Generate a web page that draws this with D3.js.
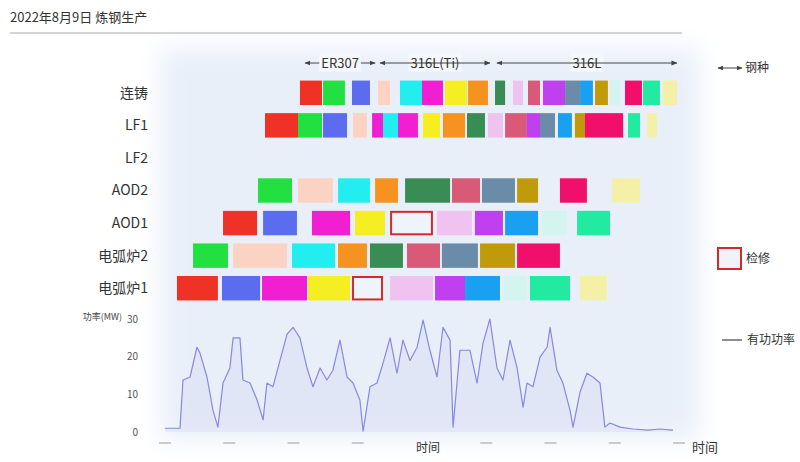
<!DOCTYPE html>
<html>
<head>
<meta charset="utf-8">
<script src="https://cdn.jsdelivr.net/npm/d3@7"></script>
<style>
  html, body { margin: 0; padding: 0; background: #fff; }
  svg { display: block; font-family: "Noto Sans CJK SC", "Noto Sans", sans-serif; }
</style>
</head>
<body>
<svg id="chart" width="800" height="462"></svg>
<script>
// Production stages, top to bottom
const stages = ["连铸", "LF1", "LF2", "AOD2", "AOD1", "电弧炉2", "电弧炉1"];

// One colour per heat; the heat keeps its colour through every stage
const heatColors = [
  "#ee3226", "#22e040", "#5b6cee", "#fcd2c2", "#f020d2", "#22eef0", "#f4ee22",
  "#f59220", "#3a8c55", "#f0c2f0", "#d85a78", "#c040f0", "#6a8ca8", "#1aa0f0",
  "#c09a0a", "#d4f4f0", "#f0106c", "#22eaa0", "#f4f0a8"
];

// [stage, heat, start hour, end hour]
const operations = [
  ["电弧炉1", 0, 0.56, 2.47], ["AOD1", 0, 2.71, 4.30], ["LF1", 0, 4.67, 6.21], ["连铸", 0, 6.30, 7.33],
  ["电弧炉2", 1, 1.31, 2.94], ["AOD2", 1, 4.34, 5.93], ["LF1", 1, 6.21, 7.33], ["连铸", 1, 7.38, 8.40],
  ["电弧炉1", 2, 2.66, 4.44], ["AOD1", 2, 4.58, 6.16], ["LF1", 2, 7.38, 8.50], ["连铸", 2, 8.73, 9.57],
  ["电弧炉2", 3, 3.18, 5.70], ["AOD2", 3, 6.21, 7.84], ["LF1", 3, 8.78, 9.43], ["连铸", 3, 9.95, 10.51],
  ["电弧炉1", 4, 4.53, 6.63], ["AOD1", 4, 6.86, 8.64], ["LF1", 4, 9.67, 10.18], ["LF1", 4, 10.88, 11.81], ["连铸", 4, 12.00, 12.98],
  ["电弧炉2", 5, 5.93, 7.94], ["AOD2", 5, 8.08, 9.57], ["LF1", 5, 10.18, 10.88], ["连铸", 5, 10.97, 12.00],
  ["电弧炉1", 6, 6.68, 8.64], ["AOD1", 6, 8.87, 10.27], ["LF1", 6, 12.05, 12.84], ["连铸", 6, 13.07, 14.10],
  ["电弧炉2", 7, 8.08, 9.43], ["AOD2", 7, 9.81, 10.88], ["LF1", 7, 12.98, 14.01], ["连铸", 7, 14.15, 15.08],
  ["电弧炉2", 8, 9.57, 11.11], ["AOD2", 8, 11.21, 13.31], ["LF1", 8, 14.10, 14.94], ["连铸", 8, 15.41, 15.88],
  ["电弧炉1", 9, 10.51, 12.51], ["AOD1", 9, 12.70, 14.33], ["LF1", 9, 15.08, 15.78], ["连铸", 9, 16.25, 16.72],
  ["电弧炉2", 10, 11.30, 12.84], ["AOD2", 10, 13.40, 14.71], ["LF1", 10, 15.88, 16.90], ["连铸", 10, 16.95, 17.51],
  ["电弧炉1", 11, 12.61, 14.01], ["AOD1", 11, 14.47, 15.78], ["LF1", 11, 16.90, 17.51], ["连铸", 11, 17.65, 18.68],
  ["电弧炉2", 12, 12.93, 14.61], ["AOD2", 12, 14.80, 16.34], ["LF1", 12, 17.51, 18.21], ["连铸", 12, 18.68, 19.38],
  ["电弧炉1", 13, 14.01, 15.64], ["AOD1", 13, 15.88, 17.42], ["LF1", 13, 18.35, 19.00], ["连铸", 13, 19.38, 19.98],
  ["电弧炉2", 14, 14.71, 16.34], ["AOD2", 14, 16.44, 17.42], ["LF1", 14, 19.14, 19.61], ["连铸", 14, 20.08, 20.68],
  ["电弧炉1", 15, 15.78, 16.90], ["AOD1", 15, 17.60, 18.77], ["连铸", 15, 20.78, 21.25],
  ["电弧炉2", 16, 16.44, 18.44], ["AOD2", 16, 18.44, 19.70], ["LF1", 16, 19.61, 21.39], ["连铸", 16, 21.48, 22.27],
  ["电弧炉1", 17, 17.04, 18.91], ["AOD1", 17, 19.24, 20.78], ["LF1", 17, 21.62, 22.18], ["连铸", 17, 22.32, 23.11],
  ["电弧炉1", 18, 19.38, 20.64], ["AOD2", 18, 20.87, 22.18], ["LF1", 18, 22.51, 22.97], ["连铸", 18, 23.25, 23.91]
];

// Maintenance windows [stage, start hour, end hour]
const maintenance = [
  ["电弧炉1", 8.73, 10.18],
  ["AOD1", 10.51, 12.51]
];

// Steel grades cast on the caster [grade, start hour, end hour]
const grades = [
  ["ER307", 6.54, 9.81],
  ["316L(Ti)", 10.04, 15.17],
  ["316L", 15.50, 23.90]
];

// Furnace active power, MW [hour, value]
const power = [
  [0.0, 1.0], [0.7, 1.0], [0.84, 13.8], [1.17, 14.6], [1.49, 22.5], [1.63, 21], [1.96, 14.6],
  [2.24, 5.8], [2.47, 1.3], [2.71, 13], [3.03, 17], [3.18, 25], [3.50, 25], [3.64, 13.8],
  [3.97, 13], [4.30, 8.5], [4.58, 3.2], [4.76, 13], [5.04, 12], [5.37, 19], [5.70, 26],
  [5.98, 27.8], [6.30, 25], [6.63, 17], [6.91, 12], [7.24, 17], [7.56, 13.8], [7.84, 16.4],
  [8.17, 24.4], [8.50, 14.6], [8.78, 13], [9.10, 8.5], [9.25, 0.2], [9.57, 12], [9.90, 13],
  [10.18, 18.3], [10.51, 25], [10.83, 15.6], [11.11, 24.4], [11.44, 19], [11.77, 22.5],
  [12.05, 29.7], [12.37, 21.7], [12.70, 14.6], [12.98, 27.8], [13.31, 24.4], [13.45, 1.3],
  [13.77, 21.7], [14.24, 21.7], [14.57, 13], [14.85, 23.6], [15.17, 30], [15.50, 17],
  [15.78, 13.8], [16.11, 24.4], [16.44, 17], [16.72, 6.6], [16.90, 13], [17.18, 12],
  [17.51, 19.9], [17.84, 22.5], [17.98, 27.8], [18.30, 16.4], [18.58, 13], [18.91, 5.8],
  [19.05, 1.3], [19.38, 10.6], [19.70, 15.6], [19.98, 14.6], [20.31, 13], [20.54, 1.3],
  [20.78, 2.4], [21.25, 1.3], [21.85, 0.8], [22.51, 0.5], [23.11, 0.8], [23.72, 0.5]
];

const powerTicks = [0, 10, 20, 30];
const hourTicks = [0, 3, 6, 9, 12, 15, 18, 21, 24];

const svg = d3.select("#chart");
const defs = svg.append("defs");

// soft pale backdrop behind the plotting area
defs.append("filter").attr("id", "soft").attr("x", "-20%").attr("y", "-20%")
  .attr("width", "140%").attr("height", "140%")
  .append("feGaussianBlur").attr("stdDeviation", 12);

const arrowEnd = defs.append("marker").attr("id", "arr").attr("viewBox", "0 0 10 10")
  .attr("refX", 9).attr("refY", 5).attr("markerWidth", 6).attr("markerHeight", 6)
  .attr("orient", "auto-start-reverse");
arrowEnd.append("path").attr("d", "M0,1 L10,5 L0,9 Z").attr("fill", "#444");

svg.append("rect").attr("x", 160).attr("y", 48).attr("width", 540).attr("height", 392)
  .attr("fill", "#e9eff9").attr("filter", "url(#soft)");

// title
svg.append("text").attr("x", 10).attr("y", 22).attr("font-size", 13).attr("fill", "#333")
  .text("2022年8月9日 炼钢生产");
svg.append("line").attr("x1", 10).attr("x2", 682).attr("y1", 33).attr("y2", 33)
  .attr("stroke", "#aaa").attr("stroke-width", 1.2);

// scales
const x = d3.scaleLinear().domain([0, 24]).range([165, 679]);
const y = d3.scaleBand().domain(stages).range([76.5, 304.5]).paddingInner(0.25).paddingOuter(0.125);
const yp = d3.scaleLinear().domain([0, 30]).range([432, 319]);

// stage labels
svg.append("g").selectAll("text").data(stages).join("text")
  .attr("x", 148).attr("y", d => y(d) + y.bandwidth() / 2)
  .attr("dy", "0.35em").attr("text-anchor", "end").attr("font-size", 14).attr("fill", "#333")
  .text(d => d);

// operation blocks
svg.append("g").selectAll("rect").data(operations).join("rect")
  .attr("x", d => x(d[2])).attr("y", d => y(d[0]))
  .attr("width", d => x(d[3]) - x(d[2])).attr("height", y.bandwidth())
  .attr("fill", d => heatColors[d[1]]);

// maintenance windows
svg.append("g").selectAll("rect").data(maintenance).join("rect")
  .attr("x", d => x(d[1]) + 1).attr("y", d => y(d[0]) + 1)
  .attr("width", d => x(d[2]) - x(d[1]) - 2).attr("height", y.bandwidth() - 2)
  .attr("fill", "#eef4fa").attr("stroke", "#d42a2a").attr("stroke-width", 2);

// steel grade spans above the caster row
const gy = 63;
const gG = svg.append("g");
grades.forEach(g => {
  const x0 = x(g[1]), x1 = x(g[2]);
  gG.append("line").attr("x1", x0).attr("x2", x1).attr("y1", gy).attr("y2", gy)
    .attr("stroke", "#444").attr("stroke-width", 1)
    .attr("marker-start", "url(#arr)").attr("marker-end", "url(#arr)");
  const t = gG.append("text").attr("x", (x0 + x1) / 2).attr("y", gy).attr("dy", "0.35em")
    .attr("text-anchor", "middle").attr("font-size", 13).attr("fill", "#333").text(g[0]);
  const bb = t.node().getBBox();
  gG.insert("rect", "text").attr("x", bb.x - 2).attr("y", bb.y).attr("width", bb.width + 4)
    .attr("height", bb.height).attr("fill", "#f4f7fc");
});

// power axis
svg.append("text").attr("x", 122).attr("y", 320).attr("text-anchor", "end")
  .attr("font-size", 9).attr("fill", "#444").text("功率(MW)");
svg.append("g").selectAll("text").data(powerTicks).join("text")
  .attr("x", 138).attr("y", d => yp(d)).attr("dy", "0.35em").attr("text-anchor", "end")
  .attr("font-size", 10).attr("fill", "#555").text(d => d);

// power line with light fill
const area = d3.area().x(d => x(d[0])).y0(yp(0)).y1(d => yp(d[1]));
svg.append("path").datum(power).attr("d", area).attr("fill", "#cfd2f3").attr("opacity", 0.3);
const line = d3.line().x(d => x(d[0])).y(d => yp(d[1]));
svg.append("path").datum(power).attr("d", line).attr("fill", "none")
  .attr("stroke", "#7378dc").attr("stroke-opacity", 0.85)
  .attr("stroke-width", 1.2).attr("stroke-linejoin", "round");

// time ticks
svg.append("g").selectAll("line").data(hourTicks.filter(h => h !== 12)).join("line")
  .attr("x1", d => x(d) - 6).attr("x2", d => x(d) + 6).attr("y1", 443).attr("y2", 443)
  .attr("stroke", "#bbb").attr("stroke-width", 1.5);
svg.append("text").attr("x", x(12) + 6).attr("y", 452).attr("text-anchor", "middle")
  .attr("font-size", 12).attr("fill", "#333").text("时间");
svg.append("text").attr("x", 692).attr("y", 452)
  .attr("font-size", 13).attr("fill", "#333").text("时间");

// legend
const lg = svg.append("g");
lg.append("line").attr("x1", 718).attr("x2", 742).attr("y1", 68).attr("y2", 68)
  .attr("stroke", "#444").attr("marker-start", "url(#arr)").attr("marker-end", "url(#arr)");
lg.append("text").attr("x", 745).attr("y", 68).attr("dy", "0.35em").attr("font-size", 12)
  .attr("fill", "#333").text("钢种");
lg.append("rect").attr("x", 718).attr("y", 248).attr("width", 23).attr("height", 21)
  .attr("fill", "#eef4fa").attr("stroke", "#d42a2a").attr("stroke-width", 2);
lg.append("text").attr("x", 746).attr("y", 259).attr("dy", "0.35em").attr("font-size", 12)
  .attr("fill", "#333").text("检修");
lg.append("line").attr("x1", 722).attr("x2", 742).attr("y1", 340).attr("y2", 340)
  .attr("stroke", "#444").attr("stroke-width", 1.2);
lg.append("text").attr("x", 747).attr("y", 340).attr("dy", "0.35em").attr("font-size", 12)
  .attr("fill", "#333").text("有功功率");
</script>
</body>
</html>
